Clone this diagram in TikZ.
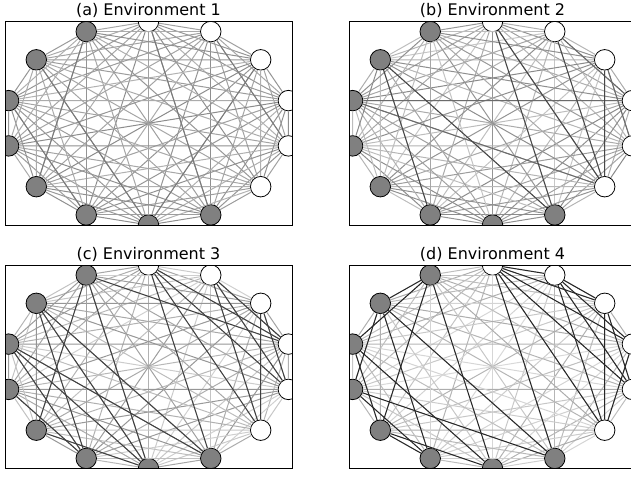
\documentclass[tikz,border=0pt]{standalone}
\usepackage{fontspec}
\setmainfont{DejaVu Sans}
\begin{document}
\begin{tikzpicture}[x=1pt,y=-1pt,
    agent/.style={circle,draw=black,line width=0.8pt,minimum size=20.5pt,inner sep=0pt},
    link/.style={line width=1pt},
    strong/.style={line width=1pt,draw=black!\darkshade},
    frame/.style={draw=black,line width=0.9pt},
    paneltitle/.style={anchor=base,font=\fontsize{16}{19}\selectfont}]
    \useasboundingbox (0,0) rectangle (631,476);

    % (a) Environment 1
    \begin{scope}[shift={(5,21.5)}]
        \node[paneltitle] (ta) at (143.5,-5.5) {(a) Environment 1};
        \begin{scope}
            \clip (0,0) rectangle (287,203.5);
            \foreach \k in {0,...,13} {
                \pgfmathsetmacro{\ang}{90-\k*360/14}
                \ifnum\k<6 \def\nodefill{white}\else\def\nodefill{black!50}\fi
                \node[agent,fill=\nodefill] (a\k) at ({143.5+143.5*cos(\ang)},{101.75-101.75*sin(\ang)}) {};
            }
            \pgfmathsetseed{11}
            \foreach \i in {0,...,12} {
                \pgfmathtruncatemacro{\s}{\i+1}
                \foreach \j in {\s,...,13} {
                    \pgfmathtruncatemacro{\w}{random(30,45)}
                    \draw[link,draw=black!\w] (a\i) -- (a\j);
                }
            }
            \def\darkshade{52}
            \foreach \i/\j in {12/7,13/9,0/6,1/4,11/8,2/7} \draw[strong] (a\i) -- (a\j);
        \end{scope}
        \draw[frame] (0,0) rectangle (287,203.5);
    \end{scope}

    % (b) Environment 2
    \begin{scope}[shift={(349,21.5)}]
        \node[paneltitle] (tb) at (143.5,-5.5) {(b) Environment 2};
        \begin{scope}
            \clip (0,0) rectangle (287,203.5);
            \foreach \k in {0,...,13} {
                \pgfmathsetmacro{\ang}{90-\k*360/14}
                \ifnum\k<6 \def\nodefill{white}\else\def\nodefill{black!50}\fi
                \node[agent,fill=\nodefill] (b\k) at ({143.5+143.5*cos(\ang)},{101.75-101.75*sin(\ang)}) {};
            }
            \pgfmathsetseed{23}
            \foreach \i in {0,...,12} {
                \pgfmathtruncatemacro{\s}{\i+1}
                \foreach \j in {\s,...,13} {
                    \pgfmathtruncatemacro{\w}{random(22,46)}
                    \draw[link,draw=black!\w] (b\i) -- (b\j);
                }
            }
            \def\darkshade{58}
            \foreach \i/\j in {11/3,11/5,2/4,1/3} \draw[strong] (b\i) -- (b\j);
            \def\darkshade{72}
            \foreach \i/\j in {12/8,12/6,2/5,0/5,1/5,0/6} \draw[strong] (b\i) -- (b\j);
        \end{scope}
        \draw[frame] (0,0) rectangle (287,203.5);
    \end{scope}

    % (c) Environment 3
    \begin{scope}[shift={(5,265)}]
        \node[paneltitle] (tc) at (143.5,-5.5) {(c) Environment 3};
        \begin{scope}
            \clip (0,0) rectangle (287,203.5);
            \foreach \k in {0,...,13} {
                \pgfmathsetmacro{\ang}{90-\k*360/14}
                \ifnum\k<6 \def\nodefill{white}\else\def\nodefill{black!50}\fi
                \node[agent,fill=\nodefill] (c\k) at ({143.5+143.5*cos(\ang)},{101.75-101.75*sin(\ang)}) {};
            }
            \pgfmathsetseed{37}
            \foreach \i in {0,...,12} {
                \pgfmathtruncatemacro{\s}{\i+1}
                \foreach \j in {\s,...,13} {
                    \pgfmathtruncatemacro{\w}{random(18,42)}
                    \draw[link,draw=black!\w] (c\i) -- (c\j);
                }
            }
            \def\darkshade{75}
            \foreach \i/\j in {13/7,12/8,12/7,11/8,11/6,12/6,10/8,9/7,13/9,0/5,0/6,0/4,1/5,1/4,2/5,2/4,0/3,1/3,13/3,11/7} \draw[strong] (c\i) -- (c\j);
        \end{scope}
        \draw[frame] (0,0) rectangle (287,203.5);
    \end{scope}

    % (d) Environment 4
    \begin{scope}[shift={(349,265)}]
        \node[paneltitle] (td) at (143.5,-5.5) {(d) Environment 4};
        \begin{scope}
            \clip (0,0) rectangle (287,203.5);
            \foreach \k in {0,...,13} {
                \pgfmathsetmacro{\ang}{90-\k*360/14}
                \ifnum\k<6 \def\nodefill{white}\else\def\nodefill{black!50}\fi
                \node[agent,fill=\nodefill] (d\k) at ({143.5+143.5*cos(\ang)},{101.75-101.75*sin(\ang)}) {};
            }
            \pgfmathsetseed{41}
            \foreach \i in {0,...,12} {
                \pgfmathtruncatemacro{\s}{\i+1}
                \foreach \j in {\s,...,13} {
                    \pgfmathtruncatemacro{\w}{random(15,32)}
                    \draw[link,draw=black!\w] (d\i) -- (d\j);
                }
            }
            \def\darkshade{85}
            \foreach \i/\j in {13/7,13/9,12/8,12/6,11/7,10/6,10/8,10/12,9/7,9/8,12/13,11/9,13/11,0/5,0/4,0/3,0/2,1/5,1/4,1/3,2/5,2/4,3/5,0/1,1/2,0/6} \draw[strong] (d\i) -- (d\j);
        \end{scope}
        \draw[frame] (0,0) rectangle (287,203.5);
    \end{scope}
\end{tikzpicture}
\end{document}
